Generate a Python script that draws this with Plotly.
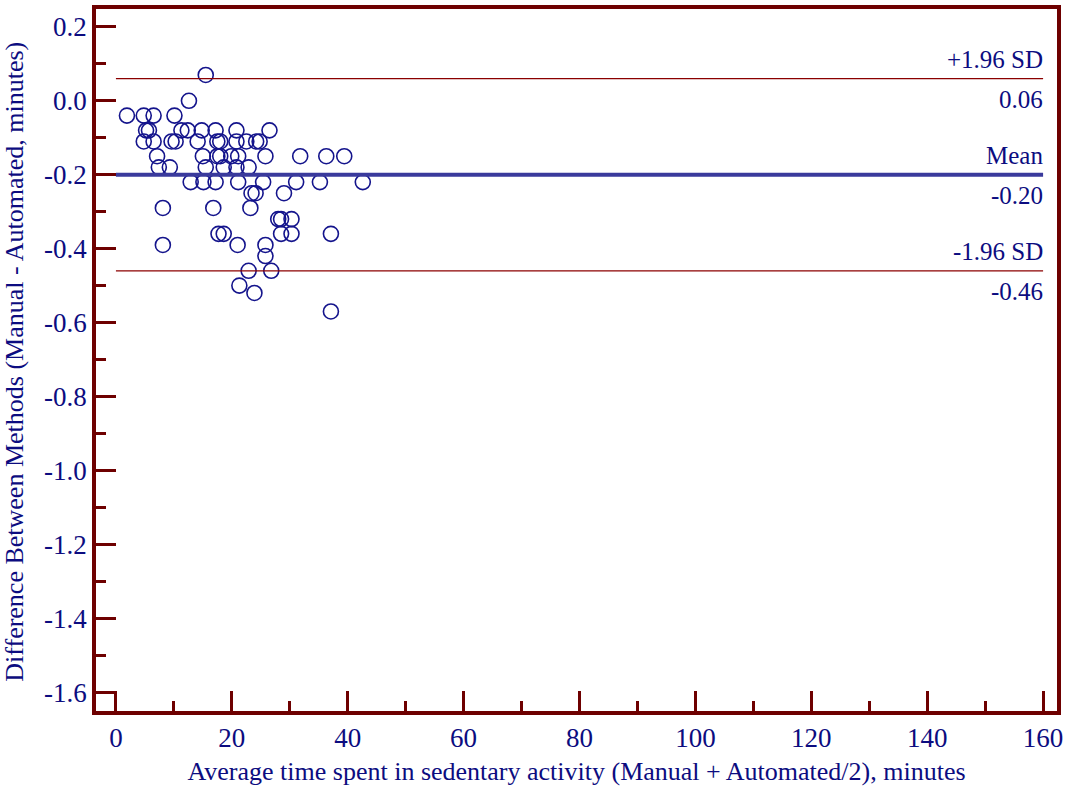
import plotly.graph_objects as go

# Bland-Altman data
avg_minutes = [
    15.5,
    12.6,
    1.9, 4.8, 6.5, 10.1,
    5.2, 5.7, 11.3, 12.4, 14.8, 17.2, 20.8, 26.5,
    4.8, 6.5, 9.6, 10.3, 14.1, 17.5, 18.0, 20.8, 22.5, 24.2, 24.8,
    7.1, 15.0, 17.5, 18.0, 19.9, 21.1, 25.8, 31.8, 36.3, 39.4,
    7.4, 9.3, 15.5, 18.6, 20.8, 22.9,
    12.9, 15.1, 17.2, 21.1, 25.4, 31.1, 35.2, 42.6,
    23.4, 24.1, 29.0,
    8.1, 16.8, 23.2,
    28.0, 28.5, 30.3,
    17.7, 18.6, 28.5, 30.3, 37.1,
    8.1, 21.0, 25.8,
    25.8,
    22.9, 26.8,
    21.3,
    23.9,
    37.1,
]
diff_minutes = [
    0.07,
    0.00,
    -0.04, -0.04, -0.04, -0.04,
    -0.08, -0.08, -0.08, -0.08, -0.08, -0.08, -0.08, -0.08,
    -0.11, -0.11, -0.11, -0.11, -0.11, -0.11, -0.11, -0.11, -0.11, -0.11, -0.11,
    -0.15, -0.15, -0.15, -0.15, -0.15, -0.15, -0.15, -0.15, -0.15, -0.15,
    -0.18, -0.18, -0.18, -0.18, -0.18, -0.18,
    -0.22, -0.22, -0.22, -0.22, -0.22, -0.22, -0.22, -0.22,
    -0.25, -0.25, -0.25,
    -0.29, -0.29, -0.29,
    -0.32, -0.32, -0.32,
    -0.36, -0.36, -0.36, -0.36, -0.36,
    -0.39, -0.39, -0.39,
    -0.42,
    -0.46, -0.46,
    -0.50,
    -0.52,
    -0.57,
]

mean_diff = -0.20
upper_loa = 0.06
lower_loa = -0.46
line_x = [0, 160]

x_ticks = [0, 20, 40, 60, 80, 100, 120, 140, 160]
y_ticks = [0.2, 0.0, -0.2, -0.4, -0.6, -0.8, -1.0, -1.2, -1.4, -1.6]
y_tick_text = ["0.2", "0.0", "-0.2", "-0.4", "-0.6", "-0.8", "-1.0", "-1.2", "-1.4", "-1.6"]

x_title = "Average time spent in sedentary activity (Manual + Automated/2), minutes"
y_title = "Difference Between Methods (Manual - Automated, minutes)"

FONT = "Liberation Serif, Times New Roman, serif"
NAVY = "#0c0c80"
FRAME = "#6e0000"

fig = go.Figure()

fig.add_trace(go.Scatter(
    x=avg_minutes, y=diff_minutes, mode="markers",
    marker=dict(symbol="circle-open", size=15, color="#14148c",
                line=dict(width=1.6, color="#14148c")),
    showlegend=False, hoverinfo="x+y",
))

# limit-of-agreement and mean lines
fig.add_trace(go.Scatter(x=line_x, y=[upper_loa, upper_loa], mode="lines",
                         line=dict(color="#8b0000", width=1.3), showlegend=False))
fig.add_trace(go.Scatter(x=line_x, y=[lower_loa, lower_loa], mode="lines",
                         line=dict(color="#8b0000", width=1.3), showlegend=False))
fig.add_trace(go.Scatter(x=line_x, y=[mean_diff, mean_diff], mode="lines",
                         line=dict(color="#3a3a9c", width=4), showlegend=False))

ann_font = dict(family=FONT, size=25, color=NAVY)
labels = [
    (upper_loa, "+1.96 SD", "%.2f" % upper_loa),
    (mean_diff, "Mean", "%.2f" % mean_diff),
    (lower_loa, "-1.96 SD", "%.2f" % lower_loa),
]
for yv, top, bottom in labels:
    fig.add_annotation(x=line_x[1], y=yv, text=top, showarrow=False,
                       xanchor="right", yanchor="middle", yshift=19, xshift=2, font=ann_font)
    fig.add_annotation(x=line_x[1], y=yv, text=bottom, showarrow=False,
                       xanchor="right", yanchor="middle", yshift=-21, xshift=2, font=ann_font)

# y-axis title as rotated annotation
fig.add_annotation(xref="paper", yref="paper", x=-0.085, y=0.498, text=y_title,
                   textangle=-90, showarrow=False, xanchor="center", yanchor="middle",
                   font=dict(family=FONT, size=26, color=NAVY))

fig.update_layout(
    width=1068, height=787,
    margin=dict(l=96, r=6, t=5, b=75),
    paper_bgcolor="white", plot_bgcolor="white",
    font=dict(family=FONT, size=24, color=NAVY),
    showlegend=False,
)

fig.update_xaxes(
    range=[-3.44, 162.4],
    tickmode="array", tickvals=x_ticks, ticktext=[str(v) for v in x_ticks],
    ticks="inside", ticklen=20, tickwidth=3, tickcolor=FRAME,
    minor=dict(ticks="inside", ticklen=10, tickwidth=3, tickcolor=FRAME,
               tickmode="array", tickvals=[10, 30, 50, 70, 90, 110, 130, 150]),
    showline=True, linewidth=3.5, linecolor=FRAME, mirror=True,
    showgrid=False, zeroline=False,
    tickfont=dict(family=FONT, size=27, color=NAVY),
    title=dict(text=x_title, font=dict(family=FONT, size=26, color=NAVY), standoff=11),
)
fig.update_yaxes(
    range=[-1.651, 0.2484],
    tickmode="array", tickvals=y_ticks, ticktext=y_tick_text,
    ticks="inside", ticklen=20, tickwidth=3, tickcolor=FRAME,
    minor=dict(ticks="inside", ticklen=10, tickwidth=3, tickcolor=FRAME,
               tickmode="array", tickvals=[0.1, -0.1, -0.3, -0.5, -0.7, -0.9, -1.1, -1.3, -1.5]),
    showline=True, linewidth=3.5, linecolor=FRAME, mirror=True,
    showgrid=False, zeroline=False,
    tickfont=dict(family=FONT, size=27, color=NAVY),
)

fig.write_html("out.html")
